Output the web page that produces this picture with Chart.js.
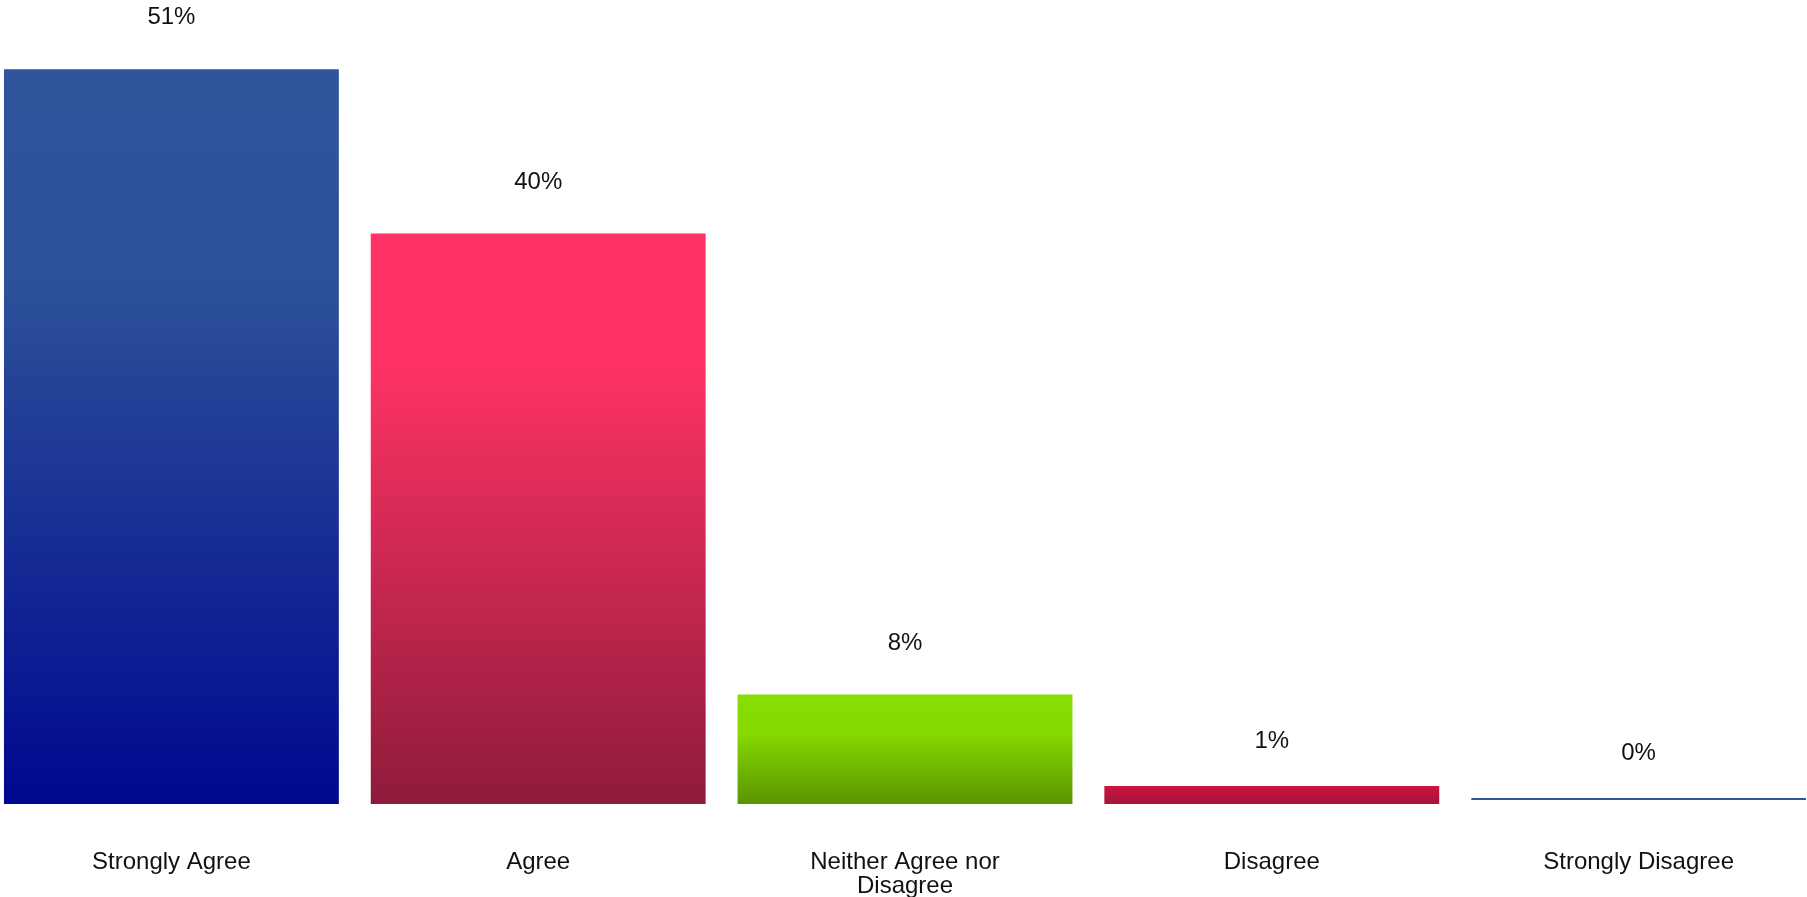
<!DOCTYPE html>
<html>
<head>
<meta charset="utf-8">
<script src="https://cdn.jsdelivr.net/npm/chart.js@4.4.1/dist/chart.umd.min.js"></script>
<style>
  html, body { margin: 0; padding: 0; background: #fff; overflow: hidden; }
  #wrap { position: absolute; left: -12px; top: 0; width: 1834px; height: 944px; }
</style>
</head>
<body>
<div id="wrap"><canvas id="chart"></canvas></div>
<script>
// survey answers, percent of respondents (bar heights)
const categories = ['Strongly Agree', 'Agree', ['Neither Agree nor', 'Disagree'], 'Disagree', 'Strongly Disagree'];
const values = [51, 39.6, 7.6, 1.25, 0.42];
const yMax = 55.8;

// vertical gradient per bar, top -> bottom
const gradientStops = [
  [[0, '#2f559b'], [0.3, '#2c5099'], [1, '#00088f']],
  [[0, '#ff3366'], [0.22, '#ff3366'], [1, '#8e1b3a']],
  [[0, '#88dd00'], [0.35, '#86da00'], [1, '#5a9400']],
  [[0, '#cc1541'], [1, '#a5143a']],
  [[0, '#2f559b'], [1, '#2f559b']],
];
const FONT = { family: '"Liberation Sans", Arial, sans-serif', size: 24 };

function barFill(ctx) {
  const chart = ctx.chart;
  const i = ctx.dataIndex;
  if (Math.round(values[i]) === 0) return 'rgba(0,0,0,0)';
  if (!chart.chartArea) return gradientStops[i][0][1];
  const y = chart.scales.y;
  const g = chart.ctx.createLinearGradient(0, y.getPixelForValue(values[i]), 0, y.getPixelForValue(0));
  gradientStops[i].forEach(([p, c]) => g.addColorStop(p, c));
  return g;
}

// percent labels above the bars
const valueLabels = {
  id: 'valueLabels',
  afterDatasetsDraw(chart) {
    const c = chart.ctx;
    const meta = chart.getDatasetMeta(0);
    c.save();
    c.font = `${FONT.size}px ${FONT.family}`;
    c.fillStyle = '#111';
    c.textAlign = 'center';
    c.textBaseline = 'middle';
    meta.data.forEach((bar, i) => {
      const h = bar.base - bar.y;
      const off = h > 60 ? 51.5 : 44.5;
      c.fillText(Math.round(values[i]) + '%', bar.x, bar.y - off);
    });
    c.restore();
  }
};

new Chart(document.getElementById('chart'), {
  type: 'bar',
  data: {
    labels: categories,
    datasets: [{
      data: values,
      backgroundColor: barFill,
      borderColor: '#2f559b',
      borderWidth: ctx => Math.round(values[ctx.dataIndex]) === 0 ? { top: 2, left: 0, right: 0, bottom: 0 } : 0,
      borderSkipped: false,
      categoryPercentage: 1,
      barPercentage: 0.913,
    }]
  },
  options: {
    responsive: true, maintainAspectRatio: false, animation: false,
    layout: { padding: 0 },
    plugins: { legend: { display: false }, tooltip: { enabled: false } },
    scales: {
      x: {
        grid: { display: false, drawTicks: false }, border: { display: false },
        ticks: { color: '#111', font: { ...FONT, lineHeight: 1 }, padding: 46, maxRotation: 0, autoSkip: false },
      },
      y: { display: false, min: 0, max: yMax },
    },
  },
  plugins: [valueLabels],
});
</script>
</body>
</html>
